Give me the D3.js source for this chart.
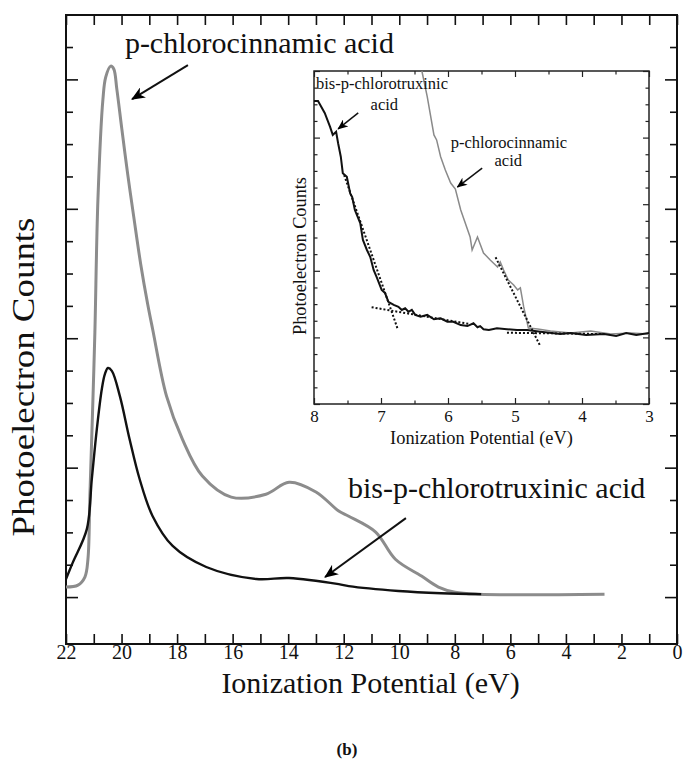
<!DOCTYPE html>
<html>
<head>
<meta charset="utf-8">
<script src="https://cdn.jsdelivr.net/npm/d3@7"></script>
<style>
  body { margin: 0; background: #fff; }
  svg { display: block; }
  svg text { font-family: "Liberation Serif", "Times New Roman", serif; }
</style>
</head>
<body>
<div id="container"></div>
<script>
/* CONSTANTS AND GLOBALS */
const width = 683, height = 762;
const frame = { left: 66, right: 677, top: 15, bottom: 644 };
const inset = { left: 314, right: 649, top: 71, bottom: 404 };

/* DATA : [ionization potential (eV), counts (arb.)] */
const mainCinnamic = [
  [22.00, 0.31], [21.57, 0.37], [21.32, 0.62], [21.21, 1.17], [21.14, 3.12],
  [21.03, 6.12], [20.96, 8.19], [20.85, 12.30], [20.67, 15.39], [20.57, 16.07],
  [20.39, 16.41], [20.28, 16.32], [20.17, 15.70], [19.99, 14.47], [19.78, 13.08],
  [19.56, 11.75], [19.31, 10.29], [19.06, 9.06], [18.88, 8.28],
  [18.38, 6.21], [17.81, 4.88], [17.09, 3.74], [16.05, 3.09], [14.80, 3.18],
  [13.97, 3.55], [13.00, 3.25], [12.18, 2.66], [11.82, 2.50], [10.85, 2.01],
  [10.14, 1.17], [9.20, 0.65], [8.59, 0.31], [7.99, 0.15], [7.16, 0.09], [2.61, 0.09]
];
const mainTruxinic = [
  [22.00, 0.56], [21.75, 1.08], [21.25, 2.10], [21.07, 3.65], [20.89, 5.19],
  [20.71, 6.43], [20.60, 6.89], [20.49, 7.08], [20.35, 6.99], [20.06, 6.21],
  [19.71, 4.88], [19.35, 3.65], [18.88, 2.50], [18.16, 1.58], [16.95, 0.93],
  [15.15, 0.56], [13.97, 0.59], [12.18, 0.40], [11.82, 0.34], [10.03, 0.19],
  [8.49, 0.12], [7.05, 0.09]
];
const insetCinnamic = [
  [6.39, 20.0], [6.31, 18.46], [6.21, 16.16], [6.17, 15.86], [6.11, 14.85],
  [6.04, 14.05], [5.96, 13.27], [5.89, 12.91], [5.81, 11.65], [5.67, 10.03],
  [5.64, 9.25], [5.56, 10.03], [5.47, 9.07], [5.37, 8.65], [5.26, 8.23],
  [5.22, 8.53], [5.17, 8.05], [5.10, 7.45], [5.02, 7.15], [4.96, 6.85],
  [4.92, 6.97], [4.87, 5.83], [4.80, 4.56], [4.66, 4.50], [4.47, 4.38],
  [4.17, 4.26], [3.87, 4.38], [3.57, 4.20], [3.27, 4.26], [3.00, 4.20]
];
const insetTruxinic = [
  [8.00, 18.20], [7.94, 18.20], [7.84, 17.48], [7.76, 16.64], [7.72, 16.16],
  [7.67, 16.35], [7.64, 15.66], [7.60, 14.85], [7.57, 13.86], [7.51, 13.65],
  [7.46, 12.65], [7.43, 12.43], [7.39, 11.65], [7.31, 10.87], [7.27, 9.85],
  [7.21, 9.25], [7.16, 8.83], [7.11, 8.05], [7.06, 7.57], [6.99, 6.85],
  [6.94, 6.67], [6.89, 6.14], [6.81, 5.95], [6.74, 5.84], [6.69, 5.65],
  [6.64, 5.75], [6.59, 5.54], [6.54, 5.65], [6.49, 5.35], [6.41, 5.24],
  [6.31, 5.35], [6.21, 5.09], [6.11, 5.15], [6.01, 4.94], [5.92, 4.94],
  [5.81, 4.74], [5.71, 4.68], [5.62, 4.85], [5.56, 4.61], [5.52, 4.68],
  [5.47, 4.49], [5.39, 4.44], [5.27, 4.55], [5.12, 4.49], [4.97, 4.44],
  [4.82, 4.44], [4.62, 4.34], [4.42, 4.25], [4.32, 4.20], [4.17, 4.26],
  [3.94, 4.14], [3.67, 4.20], [3.49, 4.08], [3.34, 4.26], [3.19, 4.14], [3.00, 4.26]
];
// dotted linear fits (onset extrapolation)
const insetFits = [
  [[7.55, 13.75], [6.75, 4.49]],
  [[7.14, 5.81], [5.67, 4.80]],
  [[5.29, 8.81], [4.63, 3.54]],
  [[5.12, 4.28], [3.67, 4.20]]
];

const mainXTicks = d3.range(0, 23, 1);
const mainYTicks = d3.range(0, 18, 1);
const insetXTicks = d3.range(3, 8.01, 0.5);
const insetYTicks = d3.range(0, 21, 1);

/* SCALES */
const xScale = d3.scaleLinear().domain([22, 0]).range([frame.left, frame.right]);
const yScale = d3.scaleLinear().domain([-1.45, 17.99]).range([frame.bottom, frame.top]);
const ixScale = d3.scaleLinear().domain([8, 3]).range([inset.left, inset.right]);
const iyScale = d3.scaleLinear().domain([0, 20]).range([inset.bottom, inset.top]);

/* HTML ELEMENTS */
const svg = d3.select("#container")
  .append("svg")
  .attr("width", width)
  .attr("height", height);

const defs = svg.append("defs");
defs.append("marker")
  .attr("id", "arrow")
  .attr("viewBox", "0 0 12 10")
  .attr("refX", 11).attr("refY", 5)
  .attr("markerWidth", 7).attr("markerHeight", 6)
  .attr("markerUnits", "strokeWidth")
  .attr("orient", "auto")
  .append("path")
  .attr("d", "M0,0 L12,5 L0,10 L3.5,5 Z")
  .attr("fill", "#000");

// main axes
const bottomAxis = d3.axisBottom(xScale)
  .tickValues(mainXTicks)
  .tickSize(-10)
  .tickPadding(1)
  .tickFormat(d => d % 2 === 0 ? d : "");

svg.append("g")
  .attr("transform", `translate(0,${frame.bottom})`)
  .call(bottomAxis)
  .attr("font-family", null)
  .call(g => g.select(".domain").remove())
  .call(g => g.selectAll("text").attr("font-size", 20).attr("fill", "#111"));

svg.append("g")
  .attr("transform", `translate(0,${frame.top})`)
  .call(d3.axisTop(xScale).tickValues(mainXTicks).tickSize(-10).tickFormat(""))
  .call(g => g.select(".domain").remove());

svg.append("g")
  .attr("transform", `translate(${frame.left},0)`)
  .call(d3.axisLeft(yScale).tickValues(mainYTicks).tickSize(0).tickFormat(""))
  .call(g => g.select(".domain").remove())
  .call(g => g.selectAll("line").attr("x2", d => d % 4 === 0 ? 12 : 7));

svg.append("g")
  .attr("transform", `translate(${frame.right},0)`)
  .call(d3.axisRight(yScale).tickValues(mainYTicks).tickSize(0).tickFormat(""))
  .call(g => g.select(".domain").remove())
  .call(g => g.selectAll("line").attr("x2", d => d % 4 === 0 ? -12 : -7));

svg.selectAll(".tick line").attr("stroke", "#111").attr("stroke-width", 1.6);

svg.append("rect")
  .attr("x", frame.left).attr("y", frame.top)
  .attr("width", frame.right - frame.left)
  .attr("height", frame.bottom - frame.top)
  .attr("fill", "none")
  .attr("stroke", "#111")
  .attr("stroke-width", 2);

// main curves
const mainLine = d3.line()
  .x(d => xScale(d[0]))
  .y(d => yScale(d[1]))
  .curve(d3.curveCatmullRom.alpha(0.5));

svg.append("path")
  .datum(mainCinnamic)
  .attr("d", mainLine)
  .attr("fill", "none")
  .attr("stroke", "#8c8c8c")
  .attr("stroke-width", 3);

svg.append("path")
  .datum(mainTruxinic)
  .attr("d", mainLine)
  .attr("fill", "none")
  .attr("stroke", "#111")
  .attr("stroke-width", 2.4);

// main labels
svg.append("text")
  .attr("x", xScale(19.88)).attr("y", yScale(16.82))
  .attr("font-size", 30).attr("fill", "#111")
  .text("p-chlorocinnamic acid");

svg.append("line")
  .attr("x1", xScale(17.61)).attr("y1", yScale(16.44))
  .attr("x2", xScale(19.62)).attr("y2", yScale(15.39))
  .attr("stroke", "#111").attr("stroke-width", 2)
  .attr("marker-end", "url(#arrow)");

svg.append("text")
  .attr("x", xScale(11.85)).attr("y", yScale(3.06))
  .attr("font-size", 30).attr("fill", "#111")
  .text("bis-p-chlorotruxinic acid");

svg.append("line")
  .attr("x1", xScale(9.76)).attr("y1", yScale(2.44))
  .attr("x2", xScale(12.67)).attr("y2", yScale(0.62))
  .attr("stroke", "#111").attr("stroke-width", 2)
  .attr("marker-end", "url(#arrow)");

svg.append("text")
  .attr("x", (frame.left + frame.right) / 2 - 1)
  .attr("y", 693)
  .attr("text-anchor", "middle")
  .attr("font-size", 30).attr("fill", "#111")
  .text("Ionization Potential (eV)");

svg.append("text")
  .attr("transform", "translate(34,377) rotate(-90)")
  .attr("text-anchor", "middle")
  .attr("font-size", 31).attr("fill", "#111")
  .attr("textLength", 319).attr("lengthAdjust", "spacingAndGlyphs")
  .text("Photoelectron Counts");

svg.append("text")
  .attr("x", 347).attr("y", 755)
  .attr("text-anchor", "middle")
  .attr("font-size", 17).attr("font-weight", "bold").attr("fill", "#111")
  .text("(b)");

/* INSET */
const ig = svg.append("g");

ig.append("rect")
  .attr("x", inset.left).attr("y", inset.top)
  .attr("width", inset.right - inset.left)
  .attr("height", inset.bottom - inset.top)
  .attr("fill", "#fff");

ig.append("g")
  .attr("transform", `translate(0,${inset.bottom})`)
  .call(d3.axisBottom(ixScale).tickValues(insetXTicks).tickSize(0).tickPadding(6)
    .tickFormat(d => Number.isInteger(d) ? d : ""))
  .attr("font-family", null)
  .call(g => g.select(".domain").remove())
  .call(g => g.selectAll("line").attr("y2", d => Number.isInteger(d) ? -6 : -3.5))
  .call(g => g.selectAll("text").attr("font-size", 17).attr("fill", "#111"));

ig.append("g")
  .attr("transform", `translate(0,${inset.top})`)
  .call(d3.axisTop(ixScale).tickValues(insetXTicks).tickSize(0).tickFormat(""))
  .call(g => g.select(".domain").remove())
  .call(g => g.selectAll("line").attr("y2", d => Number.isInteger(d) ? 6 : 3.5));

ig.append("g")
  .attr("transform", `translate(${inset.left},0)`)
  .call(d3.axisLeft(iyScale).tickValues(insetYTicks).tickSize(0).tickFormat(""))
  .call(g => g.select(".domain").remove())
  .call(g => g.selectAll("line").attr("x2", d => d % 4 === 0 ? 6 : 3.5));

ig.append("g")
  .attr("transform", `translate(${inset.right},0)`)
  .call(d3.axisRight(iyScale).tickValues(insetYTicks).tickSize(0).tickFormat(""))
  .call(g => g.select(".domain").remove())
  .call(g => g.selectAll("line").attr("x2", d => d % 4 === 0 ? -6 : -3.5));

ig.selectAll(".tick line").attr("stroke", "#222").attr("stroke-width", 1.2);

ig.append("rect")
  .attr("x", inset.left).attr("y", inset.top)
  .attr("width", inset.right - inset.left)
  .attr("height", inset.bottom - inset.top)
  .attr("fill", "none")
  .attr("stroke", "#222")
  .attr("stroke-width", 1.5);

const insetLine = d3.line()
  .x(d => ixScale(d[0]))
  .y(d => iyScale(d[1]));

ig.append("path")
  .datum(insetCinnamic)
  .attr("d", insetLine)
  .attr("fill", "none")
  .attr("stroke", "#8a8a8a")
  .attr("stroke-width", 1.5);

ig.append("path")
  .datum(insetTruxinic)
  .attr("d", insetLine)
  .attr("fill", "none")
  .attr("stroke", "#111")
  .attr("stroke-width", 2);

ig.selectAll(".fit")
  .data(insetFits)
  .join("path")
  .attr("class", "fit")
  .attr("d", insetLine)
  .attr("fill", "none")
  .attr("stroke", "#111")
  .attr("stroke-width", 2)
  .attr("stroke-dasharray", "2,2");

// inset labels
ig.append("text")
  .attr("x", ixScale(7.97)).attr("y", iyScale(18.92))
  .attr("font-size", 16.5).attr("fill", "#111")
  .text("bis-p-chlorotruxinic");
ig.append("text")
  .attr("x", ixScale(6.95)).attr("y", iyScale(17.66))
  .attr("text-anchor", "middle")
  .attr("font-size", 16.5).attr("fill", "#111")
  .text("acid");
ig.append("line")
  .attr("x1", ixScale(7.34)).attr("y1", iyScale(17.48))
  .attr("x2", ixScale(7.64)).attr("y2", iyScale(16.52))
  .attr("stroke", "#111").attr("stroke-width", 1.5)
  .attr("marker-end", "url(#arrow)");

ig.append("text")
  .attr("x", ixScale(5.96)).attr("y", iyScale(15.38))
  .attr("font-size", 16.5).attr("fill", "#111")
  .text("p-chlorocinnamic");
ig.append("text")
  .attr("x", ixScale(5.10)).attr("y", iyScale(14.29))
  .attr("text-anchor", "middle")
  .attr("font-size", 16.5).attr("fill", "#111")
  .text("acid");
ig.append("line")
  .attr("x1", ixScale(5.49)).attr("y1", iyScale(14.17))
  .attr("x2", ixScale(5.86)).attr("y2", iyScale(13.03))
  .attr("stroke", "#111").attr("stroke-width", 1.5)
  .attr("marker-end", "url(#arrow)");

ig.append("text")
  .attr("x", (inset.left + inset.right) / 2)
  .attr("y", 444)
  .attr("text-anchor", "middle")
  .attr("font-size", 18.4).attr("fill", "#111")
  .text("Ionization Potential (eV)");

ig.append("text")
  .attr("transform", "translate(306,256) rotate(-90)")
  .attr("text-anchor", "middle")
  .attr("font-size", 18.3).attr("fill", "#111")
  .text("Photoelectron Counts");
</script>
</body>
</html>
